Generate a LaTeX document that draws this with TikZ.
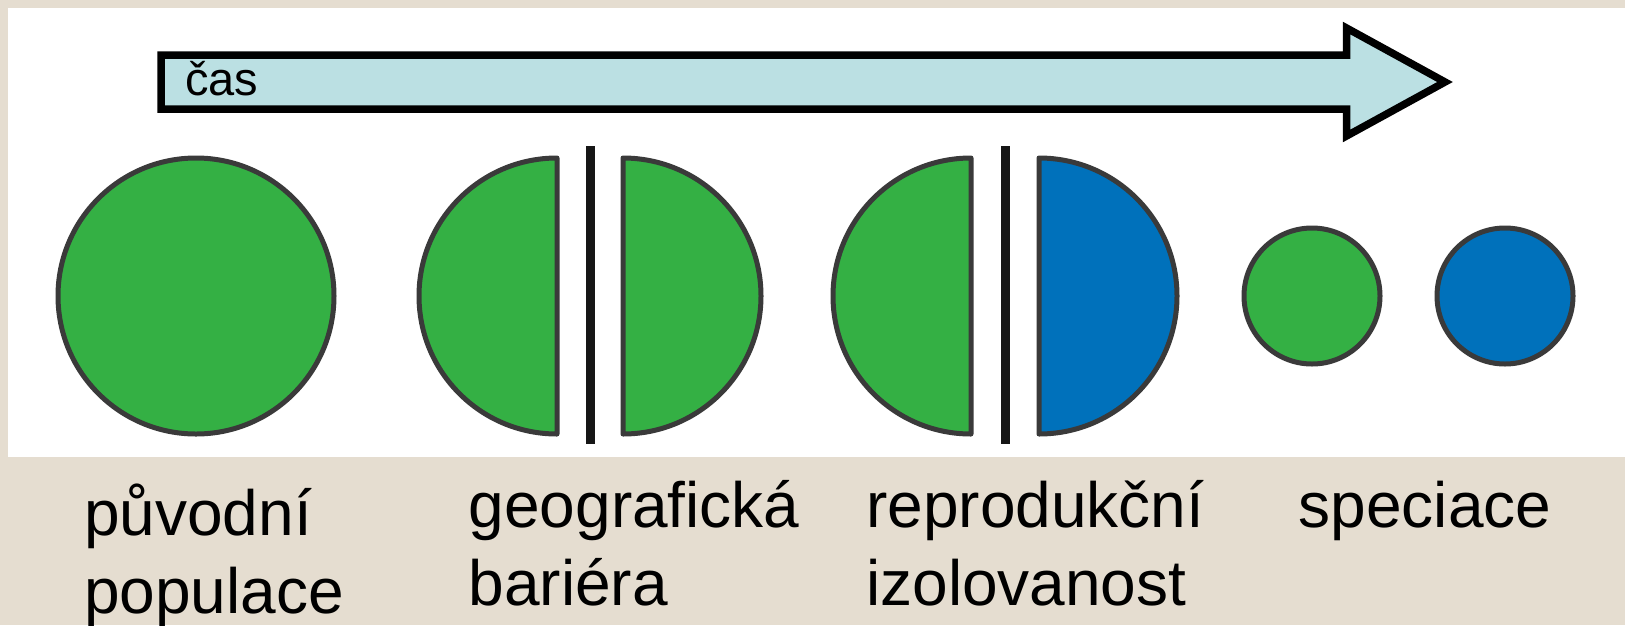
\documentclass[tikz,border=0pt]{standalone}
\usepackage{fontspec}
\setmainfont{Liberation Sans}
\definecolor{beige}{RGB}{229,221,208}
\definecolor{arrowfill}{RGB}{187,224,227}
\definecolor{popgreen}{RGB}{52,176,68}
\definecolor{popblue}{RGB}{0,113,187}
\definecolor{edgegray}{RGB}{58,58,58}
\definecolor{barblack}{RGB}{22,22,22}
\tikzset{
  pop/.style={draw=edgegray, line width=5pt, line join=round},
  barrier/.style={draw=barblack, line width=9pt},
  lbl/.style={inner sep=0pt, anchor=base west, font=\fontsize{64}{78}\selectfont},
  timelbl/.style={inner sep=0pt, anchor=base west, font=\fontsize{47}{56}\selectfont}
}
\begin{document}
\begin{tikzpicture}[x=1pt,y=-1pt]
\useasboundingbox (0,0) rectangle (1625,625);
\fill[beige] (0,0) rectangle (1625,625);
\fill[white] (8,8) rectangle (1625,457);
% time arrow
\draw[fill=arrowfill, draw=black, line width=7.5pt, miter limit=10]
  (161,55) -- (1346.5,55) -- (1346.5,28) -- (1445,82) -- (1346.5,136) -- (1346.5,109) -- (161,109) -- cycle;
\node[timelbl] (cas) at (185,95) {čas};
% original population
\draw[pop, fill=popgreen] (196,296) circle[radius=138];
% geographic barrier
\draw[pop, fill=popgreen] (557,158) arc[start angle=-90, end angle=-270, radius=138] -- cycle;
\draw[barrier] (590,146) -- (590,444);
\draw[pop, fill=popgreen] (623,158) arc[start angle=-90, end angle=90, radius=138] -- cycle;
% reproductive isolation
\draw[pop, fill=popgreen] (971,158) arc[start angle=-90, end angle=-270, radius=138] -- cycle;
\draw[barrier] (1005,146) -- (1005,444);
\draw[pop, fill=popblue] (1039,158) arc[start angle=-90, end angle=90, radius=138] -- cycle;
% speciation
\draw[pop, fill=popgreen] (1312,296) circle[radius=68];
\draw[pop, fill=popblue] (1505,296) circle[radius=68];
% labels
\node[lbl] (l1a) at (84,535) {původní};
\node[lbl] (l1b) at (84,613) {populace};
\node[lbl] (l2a) at (468.5,527) {geografická};
\node[lbl] (l2b) at (468.5,605) {bariéra};
\node[lbl] (l3a) at (866,527) {reprodukční};
\node[lbl] (l3b) at (866,605) {izolovanost};
\node[lbl] (l4a) at (1298.5,527) {speciace};
\end{tikzpicture}
\end{document}
